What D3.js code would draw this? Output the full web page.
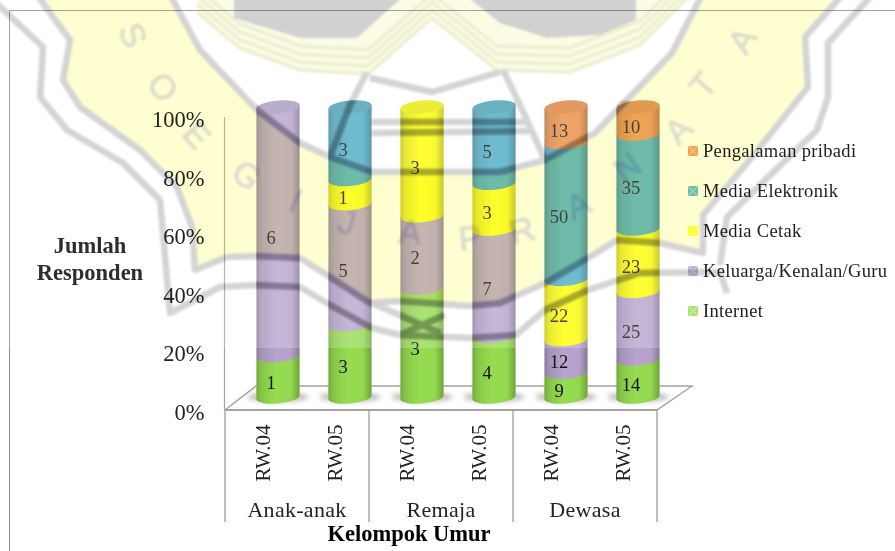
<!DOCTYPE html>
<html>
<head>
<meta charset="utf-8">
<script src="https://cdn.jsdelivr.net/npm/d3@7/dist/d3.min.js"></script>
<style>
  html, body { margin: 0; padding: 0; background: #fff; }
  svg { display: block; }
  text { font-family: "Liberation Serif", serif; }
</style>
</head>
<body>
<svg id="chart" width="895" height="551"></svg>
<script>
// Respondent counts per age group and neighbourhood
const ageGroups = ["Anak-anak", "Remaja", "Dewasa"];
const neighbourhoods = ["RW.04", "RW.05"];
const seriesNames = ["Internet", "Keluarga/Kenalan/Guru", "Media Cetak", "Media Elektronik", "Pengalaman pribadi"];
const internet = [1, 3, 3, 4, 9, 14];
const keluarga = [6, 5, 2, 7, 12, 25];
const mediaCetak = [0, 1, 3, 3, 22, 23];
const mediaElektronik = [0, 3, 0, 5, 50, 35];
const pengalaman = [0, 0, 0, 0, 13, 10];
const percentTicks = [0, 0.2, 0.4, 0.6, 0.8, 1];
const seriesColors = ["#96dc50", "#b8a4cf", "#ffff00", "#4bacc6", "#ee8e40"];

const columnKeys = ageGroups.flatMap(g => neighbourhoods.map(n => g + "|" + n));
const rows = columnKeys.map((key, i) => ({
  key,
  [seriesNames[0]]: internet[i],
  [seriesNames[1]]: keluarga[i],
  [seriesNames[2]]: mediaCetak[i],
  [seriesNames[3]]: mediaElektronik[i],
  [seriesNames[4]]: pengalaman[i]
}));
const stacked = d3.stack().keys(seriesNames).offset(d3.stackOffsetExpand)(rows);

const svg = d3.select("#chart");
const defs = svg.append("defs");

// Horizontal shading that gives each colour its rounded cylinder look
const tone = (c, k) => d3.rgb(c).darker(k).formatHex();
seriesColors.forEach((c, i) => {
  const g = defs.append("linearGradient").attr("id", "cyl" + i);
  [[0, tone(c, 0.75)], [0.12, tone(c, 0.3)], [0.45, c], [0.8, tone(c, 0.05)], [1, tone(c, 0.85)]]
    .forEach(([o, col]) => g.append("stop").attr("offset", o).attr("stop-color", col));
});
defs.append("filter").attr("id", "soft").attr("x", "-30%").attr("y", "-60%").attr("width", "160%").attr("height", "220%")
  .append("feGaussianBlur").attr("stdDeviation", 2.5);
defs.append("filter").attr("id", "wm").attr("x", "-5%").attr("y", "-5%").attr("width", "110%").attr("height", "110%")
  .append("feGaussianBlur").attr("stdDeviation", 1);

// Scales: the cylinders stand behind the axis plane, so they get their own ranges
const xBand = d3.scaleBand().domain(columnKeys).range([242, 674]).paddingInner(0.4).paddingOuter(0.2);
const yBar = d3.scaleLinear().domain([0, 1]).range([397, 107]);
const yAxisScale = d3.scaleLinear().domain([0, 1]).range([410, 117]);
const xLabel = d3.scalePoint().domain(columnKeys).range([262, 622]);
const xGroup = d3.scaleBand().domain(ageGroups).range([225, 657]);

const chart = svg.append("g");

// Chart frame
chart.append("rect").attr("x", 9.5).attr("y", 10.5).attr("width", 1000).attr("height", 1000)
  .attr("fill", "none").attr("stroke", "#8c8c8c").attr("stroke-width", 1);

// Floor of the 3D plot
const axisGray = "#a3a3a3";
const floorPath = d3.line()([[225, 410], [657, 410], [692, 386], [256, 386], [225, 410]]);
chart.append("path").attr("d", floorPath).attr("fill", "none").attr("stroke", axisGray).attr("stroke-width", 1.4);
chart.append("line").attr("x1", 225).attr("x2", 657).attr("y1", 410).attr("y2", 410)
  .attr("stroke", axisGray).attr("stroke-width", 2);

// Vertical axis line
chart.append("line").attr("x1", 224.5).attr("x2", 224.5)
  .attr("y1", yAxisScale(1)).attr("y2", yAxisScale(0))
  .attr("stroke", axisGray).attr("stroke-width", 1.2);

// Neighbourhood labels under each column
const xAxis = chart.append("g").attr("transform", "translate(0,410)")
  .call(d3.axisBottom(xLabel).tickSize(0).tickFormat(k => k.split("|")[1]));
xAxis.select(".domain").remove();
xAxis.selectAll("text").attr("x", 0).attr("y", 0).attr("dy", "0.35em")
  .attr("transform", "translate(0,43) rotate(-90)").attr("text-anchor", "middle")
  .attr("font-size", 21).attr("font-family", "Liberation Serif").attr("fill", "#222");

// Age group separators and names
const groupEdges = ageGroups.map(g => xGroup(g)).concat(xGroup.range()[1]);
chart.selectAll("line.sep").data(groupEdges).join("line").attr("class", "sep")
  .attr("x1", d => d).attr("x2", d => d).attr("y1", 410).attr("y2", 522)
  .attr("stroke", axisGray).attr("stroke-width", 1.4);
chart.selectAll("text.group").data(ageGroups).join("text").attr("class", "group")
  .attr("x", d => xGroup(d) + xGroup.bandwidth() / 2).attr("y", 517)
  .attr("text-anchor", "middle").attr("font-size", 22).attr("letter-spacing", 0.3).attr("fill", "#222").text(d => d);

// Ground shadows
const rx = xBand.bandwidth() / 2, ry = 6.5, tilt = -5;
const dy = rx * Math.tan(-tilt * Math.PI / 180);
chart.selectAll("ellipse.shadow").data(columnKeys).join("ellipse").attr("class", "shadow")
  .attr("cx", k => xBand(k) + rx).attr("cy", yBar(0)).attr("rx", rx + 9).attr("ry", 5)
  .attr("fill", "#888").attr("opacity", 0.55).attr("filter", "url(#soft)");

// Cylinder segments, bottom to top so each lower rim curves over the one beneath
const segmentPath = (k, y0, y1) => {
  const l = xBand(k), r = l + 2 * rx;
  return `M${l},${y1 + dy}L${l},${y0 + dy}A${rx},${ry} ${tilt} 0 0 ${r},${y0 - dy}L${r},${y1 - dy}Z`;
};
stacked.forEach((layer, si) => {
  const seg = chart.append("g");
  layer.forEach((d, i) => {
    if (d[1] - d[0] <= 0) return;
    const k = columnKeys[i];
    seg.append("path").attr("d", segmentPath(k, yBar(d[0]), yBar(d[1]))).attr("fill", `url(#cyl${si})`);
  });
});

// Top caps take the colour of the uppermost segment of each column
columnKeys.forEach((k, i) => {
  const idx = d3.max(stacked.map((layer, si) => (layer[i][1] - layer[i][0] > 0 ? si : -1)));
  const cx = xBand(k) + rx, cy = yBar(1);
  chart.append("ellipse").attr("cx", cx).attr("cy", cy).attr("rx", rx).attr("ry", ry)
    .attr("transform", `rotate(${tilt} ${cx} ${cy})`)
    .attr("fill", tone(seriesColors[idx], 0.25));
});

// Value labels
stacked.forEach((layer, si) => {
  layer.forEach((d, i) => {
    const v = d.data[seriesNames[si]];
    if (!v) return;
    chart.append("text")
      .attr("x", xBand(columnKeys[i]) + rx - 7)
      .attr("y", yBar((d[0] + d[1]) / 2) + 6)
      .attr("dy", "0.35em").attr("text-anchor", "middle")
      .attr("font-size", 18.5).attr("fill", "#111").text(v);
  });
});

// Legend swatches
const legendY = d3.scalePoint().domain(seriesNames.slice().reverse()).range([151, 311]);
const legend = chart.selectAll("g.legend").data(seriesNames).join("g").attr("class", "legend")
  .attr("transform", d => `translate(688,${legendY(d)})`);
legend.append("rect").attr("x", 0).attr("y", -5).attr("width", 10).attr("height", 10)
  .attr("fill", (d, i) => seriesColors[i]);
legend.append("path").attr("d", "M0,-5L10,5M10,-5L0,5").attr("fill", "none")
  .attr("stroke", "#fff").attr("stroke-opacity", 0.35).attr("stroke-width", 1.4);

// Faint wash over the upper part of the page
svg.append("rect").attr("width", 895).attr("height", 348).attr("fill", "#fff").attr("opacity", 0.2);

// Text kept at full strength above the wash
const labels = svg.append("g");
const yAxis = labels.append("g").attr("transform", "translate(224.5,0)")
  .call(d3.axisLeft(yAxisScale).tickValues(percentTicks).tickFormat(d3.format(".0%")).tickSize(0).tickPadding(20));
yAxis.select(".domain").remove();
yAxis.selectAll("text").attr("font-size", 22.5).attr("font-family", "Liberation Serif").attr("fill", "#222").attr("dy", "0.42em");

labels.selectAll("text.legend-label").data(seriesNames).join("text").attr("class", "legend-label")
  .attr("x", 703).attr("y", d => legendY(d)).attr("dy", "0.33em")
  .attr("font-size", 18.5).attr("letter-spacing", 0.33).attr("fill", "#1c1c1c").text(d => d);

const yTitle = labels.append("text").attr("text-anchor", "middle").attr("font-weight", "bold")
  .attr("font-size", 22.5).attr("fill", "#2e2e2e");
yTitle.append("tspan").attr("x", 90).attr("y", 253).text("Jumlah");
yTitle.append("tspan").attr("x", 90).attr("y", 280).text("Responden");
labels.append("text").attr("x", 409).attr("y", 541).attr("text-anchor", "middle").attr("font-weight", "bold")
  .attr("font-size", 22.5).attr("fill", "#000").text("Kelompok Umur");

// University seal printed across the page, multiplied over the chart
const seal = svg.append("g").attr("filter", "url(#wm)").style("mix-blend-mode", "multiply");
const poly = d3.line();
const bandFill = [[170,-5],[200,50],[257,110],[300,143],[330,157],[372,172],[500,172],[545,160],[595,133],[672,53],[702,-5],
  [842,-5],[805,37],[808,87],[752,157],[703,215],[703,253],[660,243],[617,240],[588,258],[545,283],[500,303],[470,306],[400,301],
  [370,303],[330,277],[300,258],[256,256],[227,257],[195,270],[192,227],[177,187],[140,150],[80,107],[63,80],[70,40],[37,-5]];
const outerRim = [[-5,2],[43,47],[40,97],[67,130],[123,163],[160,200],[170,313],[220,287],[256,285],[300,287],[330,305],[372,328],
  [400,335],[470,338],[516,335],[545,310],[588,290],[640,273],[720,272],[727,293]];
const outerRight = [[872,-5],[828,43],[828,97],[817,130],[727,217],[720,265]];
const innerLines = [
  [[370,78],[432,92],[500,72]],
  [[367,72],[350,105],[330,157]],
  [[503,70],[520,105],[545,160]],
  [[372,122],[530,122]],
  [[372,133],[530,131]],
  [[372,303],[440,333]],
  [[400,335],[445,315]]
];
const crestOutline = [[197,12],[240,48],[300,70],[368,74],[432,18],[497,70],[570,72],[640,45],[690,-5]];
const leftDisc = [[234,-5],[234,18],[300,38],[357,38],[405,-5]];
const rightDisc = [[465,-5],[500,23],[547,38],[600,35],[636,20],[636,-5]];
const sealGray = "#d4d4d4";

seal.append("path").attr("d", poly(bandFill) + "Z").attr("fill", "#fefed0").attr("stroke", sealGray).attr("stroke-width", 6.5).attr("stroke-linejoin", "round");
seal.append("path").attr("d", poly(crestOutline) + "L690,-5L197,-5Z").attr("fill", "#fcfce4");
[0, 8, 16, 24].forEach(off => {
  seal.append("path").attr("d", poly(crestOutline.map(([x, y]) => [x, y - off])))
    .attr("fill", "none").attr("stroke", "#eeeed2").attr("stroke-width", 3.5);
});
seal.append("path").attr("d", poly(leftDisc) + "Z").attr("fill", "#d1d1d1");
seal.append("path").attr("d", poly(rightDisc) + "Z").attr("fill", "#d1d1d1");
const strokedLines = [outerRim, outerRight].concat(innerLines);
strokedLines.forEach(pts => {
  seal.append("path").attr("d", poly(pts)).attr("fill", "none").attr("stroke", sealGray)
    .attr("stroke-width", 6.5).attr("stroke-linejoin", "round");
});

// Lettering around the lower arc of the seal
const sealLetters = "SOEGIJAPRANATA".split("");
const letterX = [133, 163, 197, 247, 296, 347, 410, 470, 522, 578, 627, 678, 703, 742];
const letterY = [35, 87, 135, 175, 200, 222, 232, 238, 230, 205, 167, 130, 85, 40];
const letterR = [65, 55, 48, 38, 25, 15, 5, -5, -15, -25, -35, -45, -50, -58];
seal.selectAll("text").data(sealLetters).join("text")
  .attr("transform", (d, i) => `translate(${letterX[i]},${letterY[i]}) rotate(${letterR[i]})`)
  .attr("text-anchor", "middle").attr("dy", "0.35em")
  .style("font-family", "'Liberation Sans', sans-serif")
  .attr("font-size", 34).attr("fill", "#dedece").attr("stroke", "#dedece").attr("stroke-width", 1.2).text(d => d);

// The seal's lines read darker where they cross the cylinders
const clip = defs.append("clipPath").attr("id", "columns");
columnKeys.forEach(k => clip.append("rect").attr("x", xBand(k)).attr("y", yBar(1) - ry).attr("width", 2 * rx).attr("height", yBar(0) - yBar(1) + 2 * ry));
const deepen = svg.append("g").attr("clip-path", "url(#columns)").style("mix-blend-mode", "multiply")
  .append("g").attr("filter", "url(#wm)");
[bandFill.concat([bandFill[0]])].concat(strokedLines).forEach(pts => {
  deepen.append("path").attr("d", poly(pts)).attr("fill", "none").attr("stroke", "#cfcfd4")
    .attr("stroke-width", 6.5).attr("stroke-linejoin", "round");
});
</script>
</body>
</html>
